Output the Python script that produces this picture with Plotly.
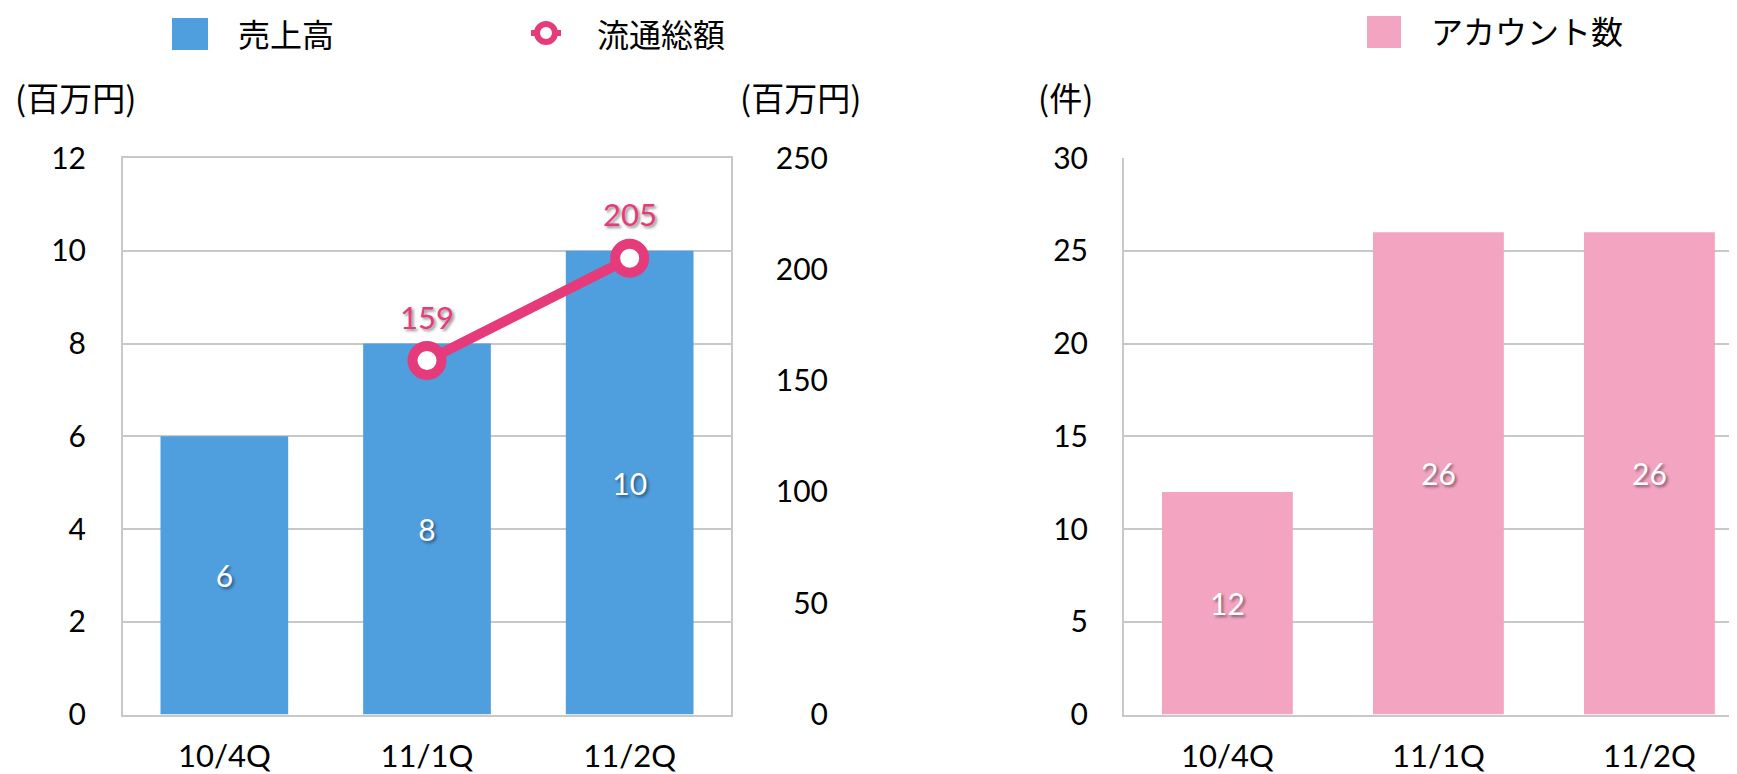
import plotly.graph_objects as go

# ---- data ----
quarters = ["10/4Q", "11/1Q", "11/2Q"]
sales = [6, 8, 10]                 # 売上高 (百万円)
gmv = [None, 159, 205]             # 流通総額 (百万円)
accounts = [12, 26, 26]            # アカウント数 (件)
sales_ticks = [0, 2, 4, 6, 8, 10, 12]
gmv_ticks = [0, 50, 100, 150, 200, 250]
account_ticks = [0, 5, 10, 15, 20, 25, 30]

# page is 1737x774 with the default 8px body margin
OFF = 8
FW, FH = 1737 - OFF, 774 - OFF


def px(x):
    return (x - OFF) / FW


def py(y):
    return 1 - (y - OFF) / FH


NUM_FONT = "Futura, 'Century Gothic', Lato, 'Noto Sans', sans-serif"
JP_FONT = "'Noto Sans CJK JP', sans-serif"
BLUE = "#4F9EDE"
PINK = "#E63B7B"
LPINK = "#F3A4C1"
GRID = "#C8C8C8"
SHADOW = "2px 2px 3px rgba(0,0,0,0.45)"

fig = go.Figure()

fig.add_trace(go.Bar(
    x=quarters, y=sales, xaxis="x", yaxis="y", name="売上高",
    marker=dict(color=BLUE, line=dict(width=0)), width=0.63,
    text=[str(v) for v in sales], textposition="inside", insidetextanchor="middle",
    textangle=0, constraintext="none",
    textfont=dict(color="white", size=30, family=NUM_FONT, shadow=SHADOW),
    showlegend=False,
))

fig.add_trace(go.Scatter(
    x=quarters, y=gmv, xaxis="x", yaxis="y2", name="流通総額",
    mode="lines+markers",
    line=dict(color=PINK, width=10),
    marker=dict(size=29, color="white", line=dict(color=PINK, width=10)),
    cliponaxis=False, showlegend=False, connectgaps=False,
))

fig.add_trace(go.Bar(
    x=quarters, y=accounts, xaxis="x2", yaxis="y3", name="アカウント数",
    marker=dict(color=LPINK, line=dict(width=0)), width=0.62,
    text=[str(v) for v in accounts], textposition="inside", insidetextanchor="middle",
    textangle=0, constraintext="none",
    textfont=dict(color="white", size=30, family=NUM_FONT, shadow=SHADOW),
    showlegend=False,
))

tickfont = dict(size=30, family=NUM_FONT, color="black")
xtickfont = dict(size=31, family=NUM_FONT, color="black")
ydom = [py(714.5), py(158)]

fig.update_layout(
    width=FW, height=FH, autosize=False,
    margin=dict(l=0, r=0, t=0, b=0, autoexpand=False),
    paper_bgcolor="white", plot_bgcolor="white",
    font=dict(family=NUM_FONT, color="black"),
    xaxis=dict(domain=[px(123), px(731)], anchor="y", range=[-0.5, 2.5],
               showline=True, linecolor=GRID, linewidth=2, mirror=True,
               showgrid=False, ticks="", tickfont=xtickfont, ticklabelstandoff=13,
               fixedrange=True),
    yaxis=dict(domain=ydom, anchor="x", range=[0, 12], tickvals=sales_ticks,
               showgrid=True, gridcolor=GRID, gridwidth=2,
               showline=True, linecolor=GRID, linewidth=2, mirror=True,
               zeroline=False, ticks="", tickfont=tickfont, ticklabelstandoff=29,
               fixedrange=True),
    yaxis2=dict(domain=ydom, overlaying="y", anchor="free", position=px(828),
                side="left", ticklabelposition="outside",
                range=[0, 250], tickvals=gmv_ticks, showgrid=False,
                showline=False, zeroline=False, ticks="", tickfont=tickfont,
                fixedrange=True),
    xaxis2=dict(domain=[px(1124), 1], anchor="y3", range=[-0.49, 2.415],
                showline=True, linecolor=GRID, linewidth=2, mirror=False,
                showgrid=False, ticks="", tickfont=xtickfont, ticklabelstandoff=13,
                fixedrange=True),
    yaxis3=dict(domain=ydom, anchor="x2", range=[0, 30], tickvals=account_ticks,
                showgrid=True, gridcolor=GRID, gridwidth=2,
                showline=True, linecolor=GRID, linewidth=2,
                zeroline=False, ticks="", tickfont=tickfont, ticklabelstandoff=28,
                fixedrange=True),
)

ann = []
# value labels of the line, placed from the data
for q, v in zip(quarters, gmv):
    if v is None:
        continue
    ann.append(dict(text=str(v), x=q, y=v, xref="x", yref="y2", yshift=44,
                    xanchor="center", yanchor="middle", showarrow=False,
                    font=dict(color=PINK, size=31, family=NUM_FONT, shadow=SHADOW)))

jp = dict(family=JP_FONT, size=32, color="black")
for txt, x, y in [("売上高", 236, 33), ("流通総額", 595, 33), ("アカウント数", 1429, 30)]:
    ann.append(dict(text=txt, x=px(x), y=py(y), xref="paper", yref="paper",
                    xanchor="left", yanchor="middle", showarrow=False, font=jp))
unit = dict(family=JP_FONT, size=33, color="black")
for txt, x, y in [("(百万円)", 75, 97), ("(百万円)", 800, 97), ("(件)", 1065, 97)]:
    ann.append(dict(text=txt, x=px(x), y=py(y), xref="paper", yref="paper",
                    xanchor="center", yanchor="middle", showarrow=False, font=unit))
fig.update_layout(annotations=ann)

shapes = [
    dict(type="rect", xref="paper", yref="paper", x0=px(172), x1=px(208),
         y0=py(50), y1=py(18), fillcolor=BLUE, line=dict(width=0)),
    dict(type="rect", xref="paper", yref="paper", x0=px(1367), x1=px(1401),
         y0=py(48), y1=py(16), fillcolor=LPINK, line=dict(width=0)),
    dict(type="line", xref="paper", yref="paper", x0=px(531), x1=px(561),
         y0=py(33), y1=py(33), line=dict(color=PINK, width=6)),
    dict(type="circle", xref="paper", yref="paper", x0=px(537), x1=px(555),
         y0=py(42), y1=py(24), fillcolor="white", line=dict(color=PINK, width=6)),
]
fig.update_layout(shapes=shapes)

fig.write_html("out.html")
